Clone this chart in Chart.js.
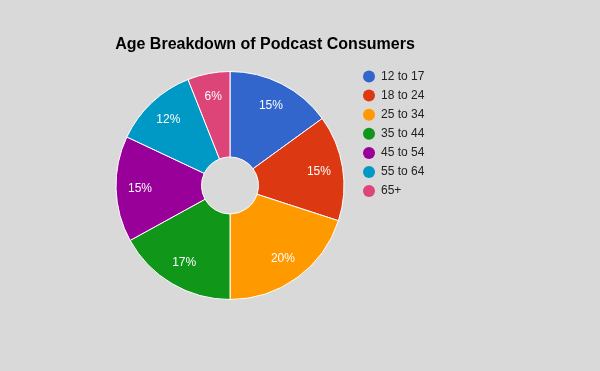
<!DOCTYPE html>
<html>
<head>
<meta charset="utf-8">
<script src="https://cdn.jsdelivr.net/npm/chart.js@4"></script>
<style>
  html, body { margin: 0; padding: 0; background: #d9d9d9; }
  #wrap { width: 600px; height: 371px; position: relative; }
</style>
</head>
<body>
<div id="wrap"><canvas id="c" width="600" height="371"></canvas></div>
<script>
const chartTitle = 'Age Breakdown of Podcast Consumers';
const categories = ['12 to 17', '18 to 24', '25 to 34', '35 to 44', '45 to 54', '55 to 64', '65+'];
const shares = [15, 15, 20, 17, 15, 12, 6];
const sliceColors = ['#3366cc', '#dc3912', '#ff9900', '#109618', '#990099', '#0099c6', '#dd4477'];

const FONT = 'Arial, "Liberation Sans", sans-serif';

const sliceLabels = {
  id: 'sliceLabels',
  afterDatasetsDraw(chart) {
    const meta = chart.getDatasetMeta(0);
    const ds = chart.data.datasets[0].data;
    const total = ds.reduce((a, b) => a + b, 0);
    const ctx = chart.ctx;
    ctx.save();
    ctx.font = '12px ' + FONT;
    ctx.fillStyle = '#ffffff';
    ctx.textAlign = 'center';
    ctx.textBaseline = 'middle';
    meta.data.forEach((arc, i) => {
      const p = arc.getProps(['x', 'y', 'startAngle', 'endAngle', 'outerRadius'], true);
      const mid = (p.startAngle + p.endAngle) / 2;
      const r = p.outerRadius * 0.79;
      const txt = Math.round(ds[i] / total * 100) + '%';
      ctx.fillText(txt, p.x + Math.cos(mid) * r, p.y + Math.sin(mid) * r);
    });
    ctx.restore();
  }
};

new Chart(document.getElementById('c'), {
  type: 'doughnut',
  data: {
    labels: categories,
    datasets: [{
      data: shares,
      backgroundColor: sliceColors,
      borderColor: '#ffffff',
      borderWidth: 1,
      hoverOffset: 0
    }]
  },
  options: {
    responsive: false,
    animation: false,
    radius: 114,
    cutout: '25%',
    layout: { padding: { left: 104.1, right: 174.1, top: 0, bottom: 63.4 } },
    plugins: {
      tooltip: { enabled: false },
      title: {
        display: true,
        text: chartTitle,
        align: 'center',
        color: '#000000',
        font: { family: FONT, size: 16, weight: 'bold' },
        padding: { top: 34.7, bottom: 9.5 }
      },
      legend: {
        position: 'right',
        align: 'start',
        fullSize: false,
        maxWidth: 70,
        labels: {
          color: '#222222',
          font: { family: FONT, size: 12 },
          padding: 7.1,
          usePointStyle: true,
          pointStyle: 'circle',
          pointStyleWidth: 12,
          boxHeight: 8.485,
          generateLabels: (chart) => Chart.overrides.doughnut.plugins.legend.labels.generateLabels(chart)
            .map(l => Object.assign(l, { lineWidth: 0, strokeStyle: 'rgba(0,0,0,0)' }))
        }
      }
    }
  },
  plugins: [sliceLabels]
});
</script>
</body>
</html>
